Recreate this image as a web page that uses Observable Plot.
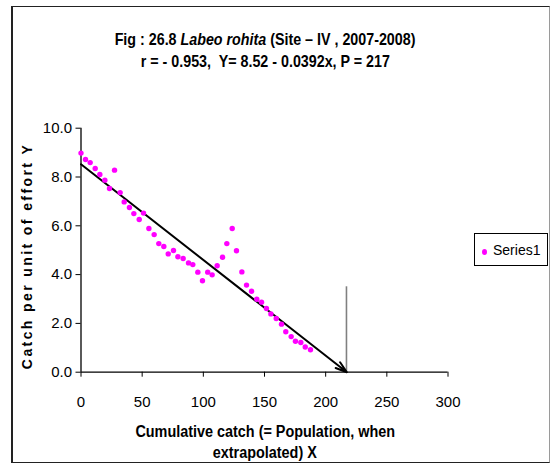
<!DOCTYPE html>
<html>
<head>
<meta charset="utf-8">
<script src="https://cdn.jsdelivr.net/npm/d3@7"></script>
<script src="https://cdn.jsdelivr.net/npm/@observablehq/plot@0.6"></script>
<style>
  html, body { margin: 0; padding: 0; background: #fff; }
  #chart { position: relative; width: 552px; height: 468px; overflow: hidden;
           font-family: "Liberation Sans", Arial, sans-serif; color: #000; }
  #frame { position: absolute; left: 11px; top: 6px; width: 536px; height: 455px;
           border: 1px solid #222; border-left-width: 2px; border-right-color: #9a9a9a; }
  .t { position: absolute; left: 0; width: 530px; text-align: center; white-space: pre; font-weight: bold; }
  .t span { display: inline-block; transform-origin: 50% 50%; }
  #title1 { top: 30px; font-size: 17px; }
  #title2 { top: 52px; font-size: 17px; }
  #title1 span, #title2 span { transform: scaleX(0.84); }
  #xlab1 { top: 423px; font-size: 16px; }
  #xlab2 { top: 444px; font-size: 16px; }
  #xlab1 span, #xlab2 span { transform: scaleX(0.9); }
  #ylab { position: absolute; left: 27px; top: 256px; transform: translate(-50%, -50%) rotate(-90deg);
          white-space: pre; font-weight: bold; font-size: 14px; letter-spacing: 2.4px; }
  #legend { position: absolute; left: 474px; top: 233px; width: 72px; height: 31px;
            border: 1px solid #000; background: #fff; }
  #legend .sw { position: absolute; left: 7px; top: 15px; width: 5px; height: 6px; border-radius: 50%; background: #ff00ff; }
  #legend .lb { position: absolute; left: 18px; top: 8px; font-size: 14px; }
  #plot { position: absolute; left: 0; top: 0; }
</style>
</head>
<body>
<div id="chart">
  <div id="frame"></div>
  <div id="plot"></div>
  <div class="t" id="title1"><span>Fig : 26.8 <i>Labeo rohita</i> (Site – IV , 2007-2008)</span></div>
  <div class="t" id="title2"><span>r = - 0.953,  Y= 8.52 - 0.0392x, P = 217</span></div>
  <div class="t" id="xlab1"><span>Cumulative catch (= Population, when</span></div>
  <div class="t" id="xlab2"><span>extrapolated) X</span></div>
  <div id="ylab">Catch per unit of effort Y</div>
  <div id="legend"><div class="sw"></div><div class="lb">Series1</div></div>
</div>
<script>
// Cumulative catch (x) and catch per unit of effort (y) for each fishing period
const cumCatch = [0, 3.7, 7.5, 11.6, 15.4, 19.5, 23.3, 27.4, 32.0, 35.3,
  39.6, 43.2, 47.6, 51.1, 55.5, 59.8, 63.6, 67.7, 71.3, 75.6,
  79.2, 83.5, 87.9, 91.4, 95.5, 99.3, 103.6, 107.2, 111.3, 115.7,
  119.2, 123.6, 127.1, 131.5, 135.3, 139.4, 143.7, 147.6, 151.6, 155.2,
  159.6, 163.9, 167.4, 171.8, 175.3, 179.7, 183.3, 187.6];
const cpue = [8.98, 8.72, 8.59, 8.35, 8.10, 7.87, 7.53, 8.28, 7.36, 6.98,
  6.75, 6.50, 6.26, 6.52, 5.89, 5.64, 5.27, 5.15, 4.85, 4.99,
  4.73, 4.66, 4.48, 4.41, 4.10, 3.75, 4.10, 3.99, 4.36, 4.71,
  5.27, 5.89, 4.98, 4.11, 3.57, 3.32, 2.99, 2.87, 2.61, 2.39,
  2.20, 1.97, 1.66, 1.46, 1.27, 1.22, 1.03, 0.92];

const xTicks = [0, 50, 100, 150, 200, 250, 300];
const yTicks = [0, 2, 4, 6, 8, 10];

// Leslie regression: Y = a + b x, population estimate P where Y = 0
const intercept = 8.52;
const slope = -0.0392;
const population = 217;
const markerTop = 3.5;

const points = cumCatch.map((x, i) => ({x, y: cpue[i]}));
const fit = [{x1: 0, y1: intercept, x2: -intercept / slope, y2: 0}];

const chart = Plot.plot({
  width: 552,
  height: 468,
  marginLeft: 80.5,
  marginRight: 104.5,
  marginTop: 127.7,
  marginBottom: 96.3,
  style: {
    background: "transparent",
    fontFamily: '"Liberation Sans", Arial, sans-serif',
    fontSize: "15px",
    color: "#000"
  },
  x: {domain: [0, 300], ticks: xTicks, tickSize: 5, tickPadding: 19, label: null},
  y: {domain: [0, 10], ticks: yTicks, tickFormat: d => d.toFixed(1), tickSize: 5, tickPadding: 4, label: null},
  marks: [
    Plot.ruleY([0], {stroke: "#000", strokeWidth: 1.3}),
    Plot.ruleX([0], {y1: 0, y2: 10, stroke: "#000", strokeWidth: 1.3}),
    Plot.ruleX([population], {y1: 0, y2: markerTop, stroke: "#808080", strokeWidth: 1.6}),
    Plot.arrow(fit, {x1: "x1", y1: "y1", x2: "x2", y2: "y2", stroke: "#000", strokeWidth: 2, headLength: 9, headAngle: 35}),
    Plot.dot(points, {x: "x", y: "y", r: 2.7, fill: "#ff00ff", stroke: null})
  ]
});
document.getElementById("plot").appendChild(chart);
</script>
</body>
</html>
